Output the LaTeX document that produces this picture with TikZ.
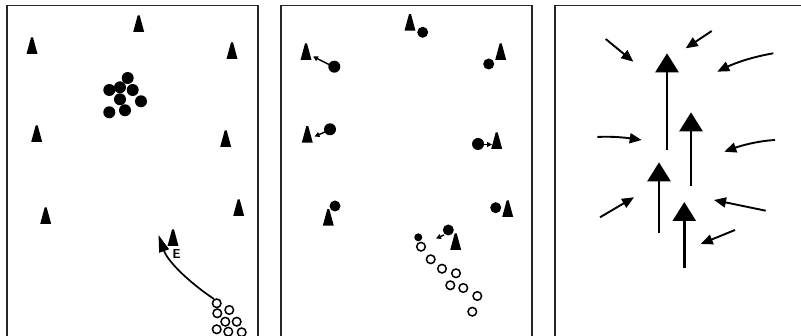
\documentclass[tikz,border=0pt]{standalone}
\usetikzlibrary{arrows.meta}
\newcommand\cone[2]{\fill[black] ({#1-5.5},{#2}) -- ({#1-1},{#2-16.5}) -- ({#1+1},{#2-16.5}) -- ({#1+5.5},{#2}) -- cycle;}
\newcommand\pdot[3]{\fill[black] (#1,#2) circle (#3pt);}
\newcommand\ring[2]{\draw[line width=1.5pt] (#1,#2) circle (4.3pt);}
\tikzset{
  frame/.style={line width=1.7pt, black!85},
  bigarrow/.style={line width=2.6pt, -{Triangle[length=19pt,width=23pt]}},
  smallarrow/.style={line width=1.9pt, -{Triangle[length=12pt,width=10pt]}},
  tinyarrow/.style={line width=1.4pt, -{Triangle[length=5pt,width=5pt]}},
  arcarrow/.style={line width=1.7pt, -{Triangle[length=17pt,width=10pt]}},
}
\begin{document}
\begin{tikzpicture}[x=1pt,y=-1pt]
\useasboundingbox (0,0) rectangle (801,336);
\fill[white] (0,0) rectangle (801,336);
% frames
\draw[frame] (7,340) -- (7,5.5) -- (257.7,5.5) -- (257.7,340);
\draw[frame] (281,340) -- (281,5.5) -- (531.7,5.5) -- (531.7,340);
\draw[frame] (555,340) -- (555,5.5) -- (810,5.5);

% ---------- panel 1 ----------
\cone{138.7}{32}
\cone{32}{54}
\cone{232}{59}
\cone{36.7}{142}
\cone{225.7}{147}
\cone{45.7}{224}
\cone{238.7}{216}
\cone{173}{246}
\pdot{127.7}{78}{6}
\pdot{109.3}{90}{6}
\pdot{120}{87.3}{6}
\pdot{132.7}{90}{6}
\pdot{120}{99.3}{6}
\pdot{141}{101.3}{6}
\pdot{109.3}{112.3}{6}
\pdot{125}{110.3}{6}
\coordinate (a1s) at (214,299);
\coordinate (a1e) at (158.5,235);
\draw[arcarrow] (a1s) .. controls (190,283) and (168,262) .. (a1e);
\node[font=\fontsize{13}{13}\selectfont\bfseries\sffamily, inner sep=0pt] (E) at (176.5,254.5) {E};
\ring{216.7}{303.3}
\ring{229.3}{310}
\ring{217.3}{313.3}
\ring{225.3}{321.7}
\ring{236.7}{321.7}
\ring{216.7}{329.3}
\ring{228.3}{331.7}
\ring{241.7}{332.3}

% ---------- panel 2 ----------
\cone{410}{30.7}
\pdot{422.7}{32.3}{5.5}
\cone{306}{60}
\pdot{334.3}{66.7}{6}
\draw[tinyarrow] (329,64.5) -- (313,56.5);
\cone{500.7}{60}
\pdot{488.7}{64}{5.5}
\cone{307.3}{142.7}
\pdot{330}{129.3}{6}
\draw[tinyarrow] (325,132) -- (314.5,136.5);
\cone{496.7}{149}
\pdot{478}{144}{6}
\draw[tinyarrow] (483,144.5) -- (492,144.5);
\cone{328.3}{225.7}
\pdot{335}{206}{5.5}
\cone{507.7}{217}
\pdot{495.7}{207.7}{5.5}
\cone{455.7}{250}
\pdot{448.3}{230}{5.5}
\draw[tinyarrow] (444,235) -- (436,238.5);
\pdot{418.3}{237.3}{4}
\ring{421}{246.7}
\ring{430.7}{259.3}
\ring{442}{268.7}
\ring{456}{273.3}
\ring{450.3}{285.3}
\ring{463.3}{288}
\ring{477.3}{296}
\ring{472.3}{311.7}

% ---------- panel 3 ----------
\coordinate (b1s) at (667,150);   \coordinate (b1e) at (667,53.3);
\coordinate (b2s) at (691,185.7); \coordinate (b2e) at (691,112.3);
\coordinate (b3s) at (659,233.3); \coordinate (b3e) at (659,162.3);
\coordinate (b4s) at (684.3,268.3); \coordinate (b4e) at (684.3,202);
\draw[bigarrow] (b1s) -- (b1e);
\draw[bigarrow] (b2s) -- (b2e);
\draw[bigarrow] (b3s) -- (b3e);
\draw[bigarrow] (b4s) -- (b4e);
\draw[smallarrow] (605.7,39) -- (633.3,61.7);
\draw[smallarrow] (711.7,31) -- (685.7,48.3);
\draw[smallarrow] (773.3,53.3) .. controls (752,57) and (735,63) .. (717.3,71.7);
\draw[smallarrow] (597.3,137) .. controls (612,136) and (628,138) .. (641.7,140);
\draw[smallarrow] (775,140) .. controls (757,141) and (740,146) .. (724.3,151.7);
\draw[smallarrow] (600,217.3) -- (634,197.3);
\draw[smallarrow] (765.7,210.7) -- (714,200);
\draw[smallarrow] (735,230) -- (700.7,244);
\end{tikzpicture}
\end{document}
